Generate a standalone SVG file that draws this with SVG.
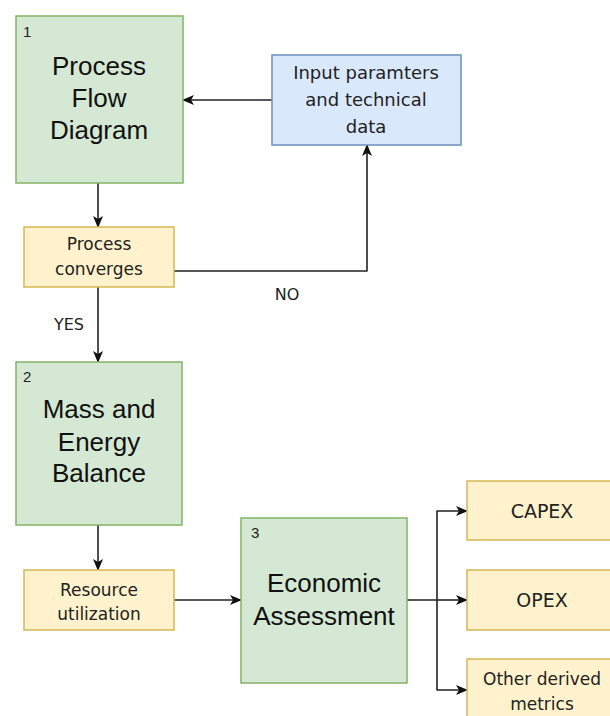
<svg xmlns="http://www.w3.org/2000/svg" width="610" height="716" viewBox="0 0 610 716">
<defs>
<style>
.g{fill:#d5e8d4;stroke:#82b366;stroke-width:1.5}
.b{fill:#dae8fc;stroke:#6c8ebf;stroke-width:1.5}
.y{fill:#fff2cc;stroke:#d6b656;stroke-width:1.5}
.big{font-family:"Liberation Sans",Arial,sans-serif;font-size:26px;fill:#111;text-anchor:middle}
.sm{font-family:"DejaVu Sans",Verdana,sans-serif;font-size:17px;fill:#222;text-anchor:middle}
.in{font-size:18px}
.cx{font-size:19px}
.num{font-family:"Liberation Sans",Arial,sans-serif;font-size:15px;fill:#222}
.lbl{font-family:"DejaVu Sans",Verdana,sans-serif;font-size:16px;fill:#222;text-anchor:middle}
.c{fill:none;stroke:#222;stroke-width:1.6;stroke-linejoin:round}
</style>
<marker id="ah" markerUnits="userSpaceOnUse" markerWidth="12" markerHeight="10" refX="11" refY="5" orient="auto" viewBox="0 0 12 10">
<path d="M0,0 L12,5 L0,10 L3,5 Z" fill="#111"/>
</marker>
</defs>
<g id="connectors">
<path class="c" d="M272,100 H183" marker-end="url(#ah)"/>
<path class="c" d="M98,183 V227" marker-end="url(#ah)"/>
<path class="c" d="M174,271 H367 V145" marker-end="url(#ah)"/>
<path class="c" d="M98,287 V362" marker-end="url(#ah)"/>
<path class="c" d="M98,525 V570" marker-end="url(#ah)"/>
<path class="c" d="M174,600 H241" marker-end="url(#ah)"/>
<path class="c" d="M407,600 H437 V511 H467" marker-end="url(#ah)"/>
<path class="c" d="M437,600 H467" marker-end="url(#ah)"/>
<path class="c" d="M437,600 V690 H467" marker-end="url(#ah)"/>
<text class="lbl" x="287" y="300">NO</text>
<text class="lbl" x="69" y="330">YES</text>
</g>
<g id="pfd">
<rect class="g" x="16" y="16" width="167" height="167"/>
<text class="num" x="23" y="37">1</text>
<text class="big" x="99" y="75">Process</text>
<text class="big" x="99" y="107">Flow</text>
<text class="big" x="99" y="139">Diagram</text>
</g>
<g id="input">
<rect class="b" x="272" y="55" width="189" height="90"/>
<text class="sm in" x="366" y="79">Input paramters</text>
<text class="sm in" x="366" y="106">and technical</text>
<text class="sm in" x="366" y="133">data</text>
</g>
<g id="converges">
<rect class="y" x="24" y="227" width="150" height="60"/>
<text class="sm" x="99" y="250">Process</text>
<text class="sm" x="99" y="275">converges</text>
</g>
<g id="meb">
<rect class="g" x="16" y="362" width="166" height="163"/>
<text class="num" x="23" y="382">2</text>
<text class="big" x="99" y="418">Mass and</text>
<text class="big" x="99" y="451">Energy</text>
<text class="big" x="99" y="482">Balance</text>
</g>
<g id="resource">
<rect class="y" x="24" y="570" width="150" height="60"/>
<text class="sm" x="99" y="596">Resource</text>
<text class="sm" x="99" y="620">utilization</text>
</g>
<g id="econ">
<rect class="g" x="241" y="518" width="166" height="165"/>
<text class="num" x="251" y="538">3</text>
<text class="big" x="324" y="592">Economic</text>
<text class="big" x="324" y="625">Assessment</text>
</g>
<g id="capex">
<rect class="y" x="467" y="481" width="150" height="59"/>
<text class="sm cx" x="542" y="518">CAPEX</text>
</g>
<g id="opex">
<rect class="y" x="467" y="570" width="150" height="60"/>
<text class="sm cx" x="542" y="607">OPEX</text>
</g>
<g id="other">
<rect class="y" x="467" y="659" width="150" height="62"/>
<text class="sm" x="542" y="685">Other derived</text>
<text class="sm" x="542" y="710">metrics</text>
</g>
</svg>
